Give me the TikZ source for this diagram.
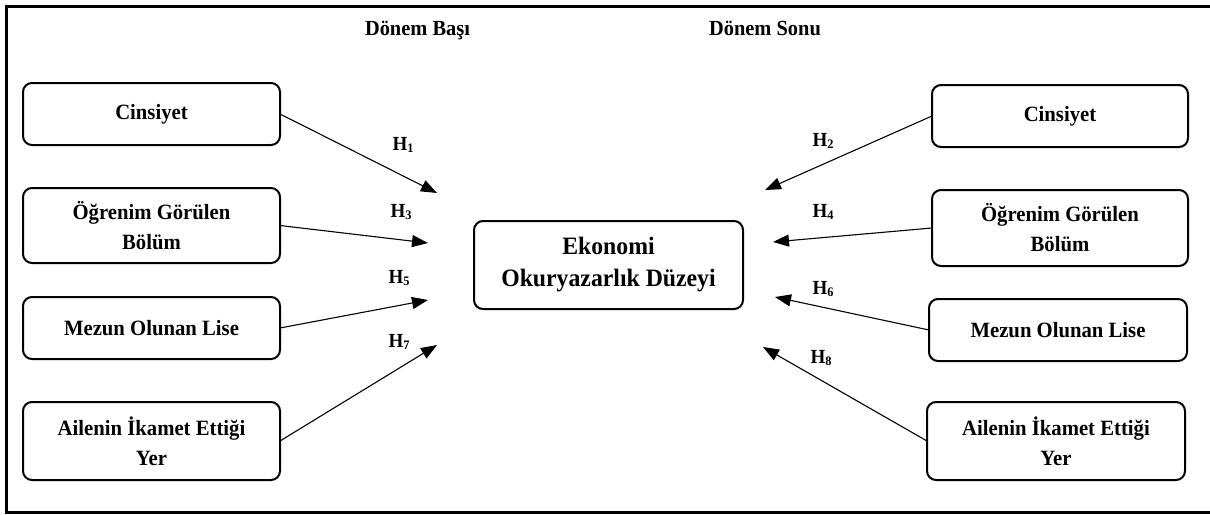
\documentclass[tikz,border=0pt]{standalone}
\usepackage{fontspec}
\setmainfont{Liberation Serif}[FakeStretch=0.95]
\usetikzlibrary{arrows.meta}
\begin{document}
\begin{tikzpicture}[x=1pt,y=-1pt,
  box/.style={draw,line width=2pt,rounded corners=9pt,align=center,inner sep=2pt,outer sep=0pt,
    font=\fontsize{21.8}{30}\selectfont\bfseries},
  head/.style={font=\fontsize{21.5}{24}\selectfont\bfseries,inner sep=0pt,anchor=base},
  hlab/.style={font=\fontsize{20}{22}\selectfont\bfseries,inner sep=0pt},
  conn/.style={line width=1.1pt,-{Triangle[length=16pt,width=12pt]}}]
\useasboundingbox (0,0) rectangle (1210,514);
\draw[line width=3pt] (6.5,6.5) rectangle (1216,512.5);
\node[head] (hb) at (417.5,35) {Dönem Başı};
\node[head] (hs) at (765,35) {Dönem Sonu};
% left boxes
\node[box,minimum width=257pt,minimum height=62pt] (l1) at (151.5,114) {Cinsiyet};
\node[box,minimum width=257pt,minimum height=75pt] (l2) at (151.5,225.5) {Öğrenim Görülen\\Bölüm};
\node[box,minimum width=257pt,minimum height=62pt] (l3) at (151.5,328) {Mezun Olunan Lise};
\node[box,minimum width=257pt,minimum height=78pt] (l4) at (151.5,441) {Ailenin İkamet Ettiği\\Yer};
% right boxes
\node[box,minimum width=256pt,minimum height=62pt] (r1) at (1060,116) {Cinsiyet};
\node[box,minimum width=256pt,minimum height=76pt] (r2) at (1060,228) {Öğrenim Görülen\\Bölüm};
\node[box,minimum width=258pt,minimum height=62pt] (r3) at (1058,330) {Mezun Olunan Lise};
\node[box,minimum width=258pt,minimum height=78pt] (r4) at (1056,441) {Ailenin İkamet Ettiği\\Yer};
% center
\node[box,minimum width=269pt,minimum height=88pt,font=\fontsize{25}{32}\selectfont\bfseries] (c) at (608.5,265) {Ekonomi\\Okuryazarlık Düzeyi};
% arrow end points
\coordinate (t1) at (437,193);
\coordinate (t3) at (428,243);
\coordinate (t5) at (428,300);
\coordinate (t7) at (437,345);
\coordinate (t2) at (765,190);
\coordinate (t4) at (773,242);
\coordinate (t6) at (775,297);
\coordinate (t8) at (763,347);
\draw[conn] (l1.east) -- (t1);
\draw[conn] (l2.east) -- (t3);
\draw[conn] (l3.east) -- (t5);
\draw[conn] (l4.east) -- (t7);
\draw[conn] (r1.west) -- (t2);
\draw[conn] (r2.west) -- (t4);
\draw[conn] (r3.west) -- (t6);
\draw[conn] (r4.west) -- (t8);
% labels
\newcommand{\hsub}[1]{H\raisebox{-1.5pt}{\fontsize{13}{13}\selectfont #1}}
\node[hlab] (h1) at (403,145) {\hsub{1}};
\node[hlab] (h3) at (401,212) {\hsub{3}};
\node[hlab] (h5) at (399,278) {\hsub{5}};
\node[hlab] (h7) at (399,342) {\hsub{7}};
\node[hlab] (h2) at (823,141) {\hsub{2}};
\node[hlab] (h4) at (823,212) {\hsub{4}};
\node[hlab] (h6) at (823,289) {\hsub{6}};
\node[hlab] (h8) at (821,358) {\hsub{8}};
\end{tikzpicture}
\end{document}
